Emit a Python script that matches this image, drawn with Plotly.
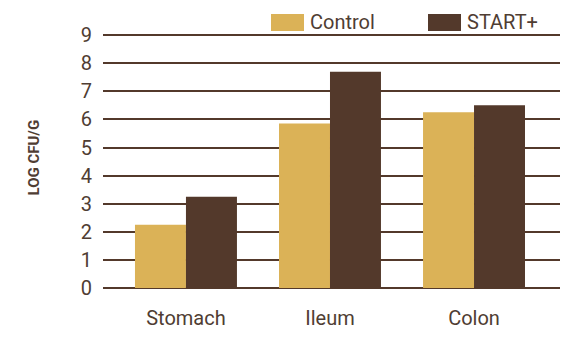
import plotly.graph_objects as go

categories = ["Stomach", "Ileum", "Colon"]
control = [2.25, 5.85, 6.25]
start_plus = [3.25, 7.7, 6.5]
series_names = ["Control", "START+"]
y_ticks = list(range(0, 10))
y_title = "LOG CFU/G"

GOLD = "#DBB257"
BROWN = "#53392B"
TEXT = "#4F3D33"

W, H = 581, 341
L, R, T, B = 103, 21, 33, 53
PW, PH = W - L - R, H - T - B
UNIT = 252.9 / 9.0
Y_TOP = PH / UNIT

def px_x(p):
    return (p - L) / PW

def px_y(p):
    return (H - B - p) / PH

fig = go.Figure()
fig.add_trace(go.Bar(x=categories, y=control, name=series_names[0],
                     marker=dict(color=GOLD, line=dict(width=0))))
fig.add_trace(go.Bar(x=categories, y=start_plus, name=series_names[1],
                     marker=dict(color=BROWN, line=dict(width=0))))

fig.update_layout(
    width=W, height=H,
    margin=dict(l=L, r=R, t=T, b=B, pad=0),
    paper_bgcolor="white", plot_bgcolor="white",
    barmode="group", bargap=0.292, bargroupgap=0,
    showlegend=False,
    font=dict(family="Roboto", size=20, color=TEXT),
)
fig.update_xaxes(range=[-0.576, 2.597], showgrid=False, zeroline=False,
                 showline=False, ticks="", ticklabelstandoff=16,
                 tickfont=dict(family="Roboto", size=20, color=TEXT))
fig.update_yaxes(range=[0, Y_TOP], tickvals=y_ticks, ticktext=[str(v) for v in y_ticks],
                 showgrid=True, gridcolor=BROWN, gridwidth=2,
                 zeroline=True, zerolinecolor=BROWN, zerolinewidth=2,
                 showline=False, ticks="", ticklabelstandoff=10,
                 tickfont=dict(family="Roboto", size=20, color=TEXT))

# axis title
fig.add_annotation(text=f"<b>{y_title}</b>", xref="paper", yref="paper",
                   x=px_x(33), y=px_y(157.5), xanchor="center", yanchor="middle",
                   textangle=-90, showarrow=False,
                   font=dict(family="Roboto", size=15, color=TEXT))

# legend built from shapes + text
legend_items = [(series_names[0], GOLD, 271, 304, 310), (series_names[1], BROWN, 428, 461, 467)]
for name, col, x0, x1, tx in legend_items:
    fig.add_shape(type="rect", xref="paper", yref="paper",
                  x0=px_x(x0), x1=px_x(x1), y0=px_y(31), y1=px_y(14),
                  fillcolor=col, line=dict(width=0), layer="above")
    fig.add_annotation(text=name, xref="paper", yref="paper",
                       x=px_x(tx - 2), y=px_y(22.5), xanchor="left", yanchor="middle",
                       showarrow=False, font=dict(family="Roboto", size=20, color=TEXT))

fig.write_html("out.html")
